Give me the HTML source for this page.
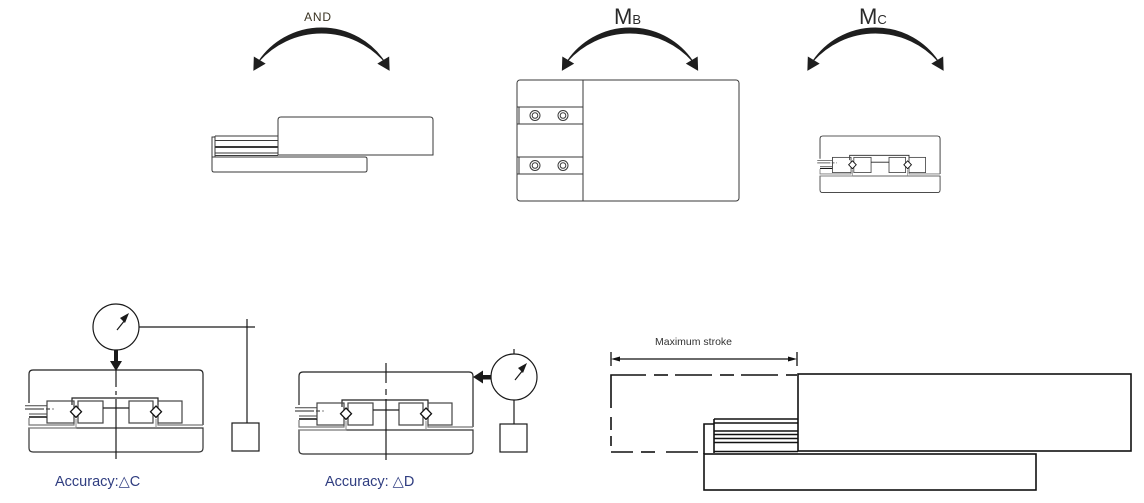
<!DOCTYPE html>
<html>
<head>
<meta charset="utf-8">
<style>
html,body{margin:0;padding:0;background:#fff;}
svg{display:block;}
text{font-family:"Liberation Sans","DejaVu Sans",sans-serif;}
</style>
</head>
<body>
<svg width="1144" height="503" viewBox="0 0 1144 503" xmlns="http://www.w3.org/2000/svg">
<rect width="1144" height="503" fill="#fff"/>

<!-- ===== Arcs ===== -->
<g fill="#1e1e1e" stroke="#1e1e1e" stroke-width="1">
  <path d="M259,61 A75.7,75.7 0 0 1 384,61 A83.75,83.75 0 0 0 259,61 Z"/>
  <polygon points="253.9,70 264.7,63.6 254.3,57.4"/>
  <polygon points="389.1,70 378.3,63.6 388.7,57.4"/>
</g>
<g transform="translate(308.5,0)" fill="#1e1e1e" stroke="#1e1e1e" stroke-width="1">
  <path d="M259,61 A75.7,75.7 0 0 1 384,61 A83.75,83.75 0 0 0 259,61 Z"/>
  <polygon points="253.9,70 264.7,63.6 254.3,57.4"/>
  <polygon points="389.1,70 378.3,63.6 388.7,57.4"/>
</g>
<g transform="translate(554,0)" fill="#1e1e1e" stroke="#1e1e1e" stroke-width="1">
  <path d="M259,61 A75.7,75.7 0 0 1 384,61 A83.75,83.75 0 0 0 259,61 Z"/>
  <polygon points="253.9,70 264.7,63.6 254.3,57.4"/>
  <polygon points="389.1,70 378.3,63.6 388.7,57.4"/>
</g>

<!-- labels -->
<text x="318" y="21" font-size="12" letter-spacing="0.8" fill="#3a3322" text-anchor="middle">AND</text>
<text x="614" y="24" font-size="22" fill="#2a2a2a">M<tspan font-size="13">B</tspan></text>
<text x="859" y="24" font-size="22" fill="#2a2a2a">M<tspan font-size="13">C</tspan></text>

<!-- ===== AND figure ===== -->
<g fill="none" stroke="#3a3a3a" stroke-width="1">
  <path d="M278,155 V120 Q278,117 281,117 H430 Q433,117 433,120 V155 Z" fill="#fff"/>
  <path d="M212,157 H365 Q367,157 367,159 V170 Q367,172 365,172 H214 Q212,172 212,170 Z"/>
  <path d="M212,157 V137 H215"/>
  <line x1="215" y1="136" x2="215" y2="157"/>
  <line x1="215" y1="136" x2="278" y2="136"/>
  <line x1="215" y1="140.5" x2="278" y2="140.5"/>
  <line x1="215" y1="147" x2="278" y2="147" stroke-width="2"/>
  <line x1="215" y1="153" x2="278" y2="153"/>
  <line x1="215" y1="155.5" x2="278" y2="155.5"/>
</g>

<!-- ===== MB figure ===== -->
<g fill="none" stroke="#3a3a3a" stroke-width="1">
  <rect x="517" y="80" width="222" height="121" rx="3"/>
  <line x1="583" y1="80" x2="583" y2="201"/>
  <rect x="519" y="107" width="64" height="17"/>
  <rect x="519" y="157" width="64" height="17"/>
  <line x1="517" y1="107" x2="519" y2="107"/>
  <line x1="517" y1="124" x2="519" y2="124"/>
  <line x1="517" y1="157" x2="519" y2="157"/>
  <line x1="517" y1="174" x2="519" y2="174"/>
  <circle cx="535" cy="115.5" r="5"/><circle cx="535" cy="115.5" r="2.8"/>
  <circle cx="563" cy="115.5" r="5"/><circle cx="563" cy="115.5" r="2.8"/>
  <circle cx="535" cy="165.5" r="5"/><circle cx="535" cy="165.5" r="2.8"/>
  <circle cx="563" cy="165.5" r="5"/><circle cx="563" cy="165.5" r="2.8"/>
</g>

<!-- ===== bearing block (reused) ===== -->
<defs>
  <g id="blk" fill="none">
    <path d="M29,403 V374 Q29,370 33,370 H199 Q203,370 203,374 V425" stroke="#222" stroke-width="1.2"/>
    <path d="M29,418 V425 H74 V423" stroke="#777" stroke-width="1.2"/>
    <path d="M158,423 V425 H203" stroke="#777" stroke-width="1.2"/>
    <path d="M29,428 H203 V448 Q203,452 199,452 H33 Q29,452 29,448 Z" stroke="#333" stroke-width="1.2"/>
    <path d="M29,428 H76 V419" stroke="#888" stroke-width="1"/>
    <path d="M156,419 V428" stroke="#888" stroke-width="1"/>
    <path d="M72,405 V398 H158 V405" stroke="#222" stroke-width="1.2"/>
    <rect x="47" y="401" width="27" height="22" stroke="#444" stroke-width="1.2"/>
    <rect x="78" y="401" width="25" height="22" stroke="#444" stroke-width="1.2"/>
    <rect x="129" y="401" width="24" height="22" stroke="#444" stroke-width="1.2"/>
    <rect x="158" y="401" width="24" height="22" stroke="#444" stroke-width="1.2"/>
    <line x1="103" y1="408" x2="129" y2="408" stroke="#222" stroke-width="1.2"/>
    <polygon points="76,406 81.5,411.7 76,417.4 70.5,411.7" fill="#fff" stroke="#111" stroke-width="1.3"/>
    <polygon points="156,406 161.5,411.7 156,417.4 150.5,411.7" fill="#fff" stroke="#111" stroke-width="1.3"/>
    <line x1="25" y1="405.7" x2="47" y2="405.7" stroke="#444" stroke-width="1"/>
    <line x1="25" y1="409" x2="44" y2="409" stroke="#222" stroke-width="1"/>
    <line x1="46" y1="409" x2="50" y2="409" stroke="#222" stroke-width="1"/>
    <circle cx="53" cy="409" r="0.6" fill="#222"/>
    <line x1="29" y1="414" x2="47" y2="414" stroke="#444" stroke-width="1"/>
    <line x1="29" y1="417" x2="47" y2="417" stroke="#111" stroke-width="1.6"/>
    <line x1="47" y1="401" x2="47" y2="417" stroke="#444" stroke-width="1"/>
  </g>
</defs>

<!-- MC small -->
<g transform="translate(800,-119.3) scale(0.69)">
  <use href="#blk"/>
</g>

<!-- ===== ΔC figure ===== -->
<use href="#blk"/>
<g fill="none" stroke="#1a1a1a" stroke-width="1.2">
  <circle cx="116" cy="327" r="23"/>
  <line x1="117" y1="330" x2="125" y2="320"/>
  <line x1="139" y1="327" x2="255" y2="327"/>
  <line x1="247" y1="319" x2="247" y2="423"/>
  <rect x="232" y="423" width="27" height="28"/>
  <line x1="116" y1="370" x2="116" y2="387"/>
  <line x1="116" y1="391" x2="116" y2="395"/>
  <line x1="116" y1="399" x2="116" y2="459"/>
</g>
<polygon points="129,313 120,318 125,323" fill="#1a1a1a"/>
<rect x="114" y="350" width="4" height="12" fill="#1a1a1a"/>
<polygon points="110,361 122,361 116,371" fill="#1a1a1a"/>
<text x="55" y="486" font-size="14.5" fill="#2f3d80">Accuracy:△C</text>

<!-- ===== ΔD figure ===== -->
<g transform="translate(270,2)"><use href="#blk"/></g>
<g fill="none" stroke="#1a1a1a" stroke-width="1.2">
  <circle cx="514" cy="377" r="23"/>
  <line x1="515" y1="380" x2="523" y2="370"/>
  <line x1="514" y1="349" x2="514" y2="354"/>
  <line x1="514" y1="400" x2="514" y2="424"/>
  <rect x="500" y="424" width="27" height="28"/>
  <line x1="386" y1="363" x2="386" y2="383"/>
  <line x1="386" y1="389" x2="386" y2="395"/>
  <line x1="386" y1="399" x2="386" y2="460"/>
</g>
<polygon points="527,363 518,368 523,373" fill="#1a1a1a"/>
<rect x="482" y="375" width="9" height="4.5" fill="#1a1a1a"/>
<polygon points="483,370.5 483,383.5 473,377" fill="#1a1a1a"/>
<text x="325" y="486" font-size="14.5" fill="#2f3d80">Accuracy: △D</text>

<!-- ===== Maximum stroke figure ===== -->
<text x="655" y="345" font-size="10.5" fill="#333">Maximum stroke</text>
<g fill="none" stroke="#111" stroke-width="1.3">
  <line x1="611" y1="352" x2="611" y2="366"/>
  <line x1="797" y1="352" x2="797" y2="366"/>
  <line x1="615" y1="359" x2="793" y2="359"/>
</g>
<polygon points="611,359 620,356.5 620,361.5" fill="#111"/>
<polygon points="797,359 788,356.5 788,361.5" fill="#111"/>
<g fill="none" stroke="#111" stroke-width="1.6">
  <path d="M611,408 V375 H646"/>
  <line x1="654" y1="375" x2="668" y2="375"/>
  <line x1="675" y1="375" x2="712" y2="375"/>
  <line x1="720" y1="375" x2="734" y2="375"/>
  <line x1="741" y1="375" x2="778" y2="375"/>
  <line x1="786" y1="375" x2="797" y2="375"/>
  <line x1="611" y1="417" x2="611" y2="430"/>
  <line x1="611" y1="436" x2="611" y2="446"/>
  <line x1="611" y1="452" x2="633" y2="452"/>
  <line x1="641" y1="452" x2="655" y2="452"/>
  <line x1="666" y1="452" x2="698" y2="452"/>
  <rect x="798" y="374" width="333" height="77"/>
  <rect x="704" y="454" width="332" height="36"/>
  <path d="M704,454 V424 H714"/>
  <line x1="714" y1="419" x2="714" y2="453"/>
  <line x1="714" y1="419" x2="798" y2="419"/>
  <line x1="714" y1="423" x2="798" y2="423"/>
  <line x1="714" y1="431" x2="798" y2="431"/>
  <line x1="714" y1="434.5" x2="798" y2="434.5"/>
  <line x1="714" y1="438.5" x2="798" y2="438.5"/>
  <line x1="714" y1="442.5" x2="798" y2="442.5"/>
  <line x1="714" y1="451.5" x2="798" y2="451.5"/>
</g>
</svg>
</body>
</html>
